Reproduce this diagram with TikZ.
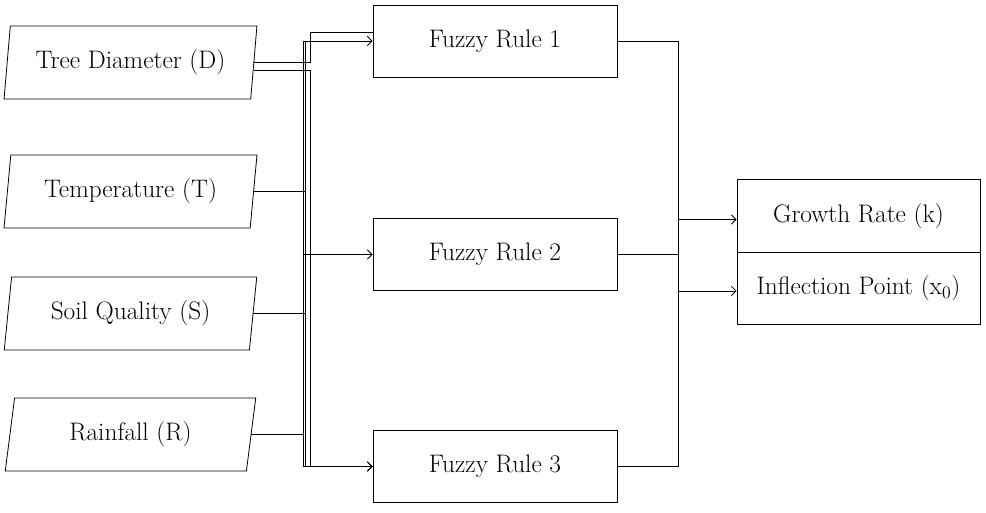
\documentclass[tikz,border=0pt]{standalone}
\usetikzlibrary{shapes.geometric,positioning,arrows.meta}

\begin{document}
\begin{tikzpicture}[x=0.75pt,y=-0.75pt,line width=0.6pt,
  >={Straight Barb[length=3.5pt,width=7pt]},
  inp/.style={draw,trapezium,trapezium left angle=79,trapezium right angle=101,
    trapezium stretches=true,minimum width=189.75pt,minimum height=54.75pt,
    inner sep=0pt,font=\fontsize{19}{22}\selectfont},
  rulebox/.style={draw,minimum width=183pt,minimum height=54pt,inner sep=0pt,
    font=\fontsize{19}{22}\selectfont},
  outbox/.style={draw,minimum width=182.25pt,minimum height=54.4pt,inner sep=0pt,
    font=\fontsize{19}{22}\selectfont}]
\useasboundingbox (0,0) rectangle (986,512);
% inputs
\node[inp] (D) at (130.5,62.5) {Tree Diameter (D)};
\node[inp] (T) at (130.5,191.5) {Temperature (T)};
\node[inp] (S) at (130.5,313.5) {Soil Quality (S)};
\node[inp] (R) at (130.5,434.5) {Rainfall (R)};
% rules
\node[rulebox] (F1) at (495,41) {Fuzzy Rule 1};
\node[rulebox] (F2) at (495,254.5) {Fuzzy Rule 2};
\node[rulebox] (F3) at (495,466.5) {Fuzzy Rule 3};
% outputs
\node[outbox] (k) at (858.5,216) {Growth Rate (k)};
\node[outbox,below=-0.6pt of k] (x0) {Inflection Point (x\textsubscript{0})};
% bus points
\coordinate (top) at (310,32);
\coordinate (b1) at (303,41);
\coordinate (b2) at (305.5,41);
\coordinate (b3) at (310,466.5);
\coordinate (m) at (678,0);
\coordinate (kin) at ([yshift=-2.6pt]k.west);
\coordinate (xin) at ([yshift=-1.8pt]x0.west);
% left wiring
\draw (D.east) -| (top) -- (F1.west |- top);
\draw[->] ([yshift=-5.6pt]D.east) -| (b3) -- (F3.west);
\draw[->] (b1) -- (F1.west);
\draw (b1) -- (b1 |- F3.west);
\draw[->] (b1 |- F3.west) -- (F3.west);
\draw[->] (b1 |- F2.west) -- (F2.west);
\draw (b2) -- (b2 |- F3.west);
\draw (T.east) -- (T.east -| b2);
\draw (S.east) -- (S.east -| b2);
\draw (R.east) -- (R.east -| b1);
% right wiring
\draw (F1.east) -| (m |- F3.east) -- (F3.east);
\draw (F2.east) -- (F2.east -| m);
\draw[->] (m |- kin) -- (kin);
\draw[->] (m |- xin) -- (xin);
\end{tikzpicture}
\end{document}
